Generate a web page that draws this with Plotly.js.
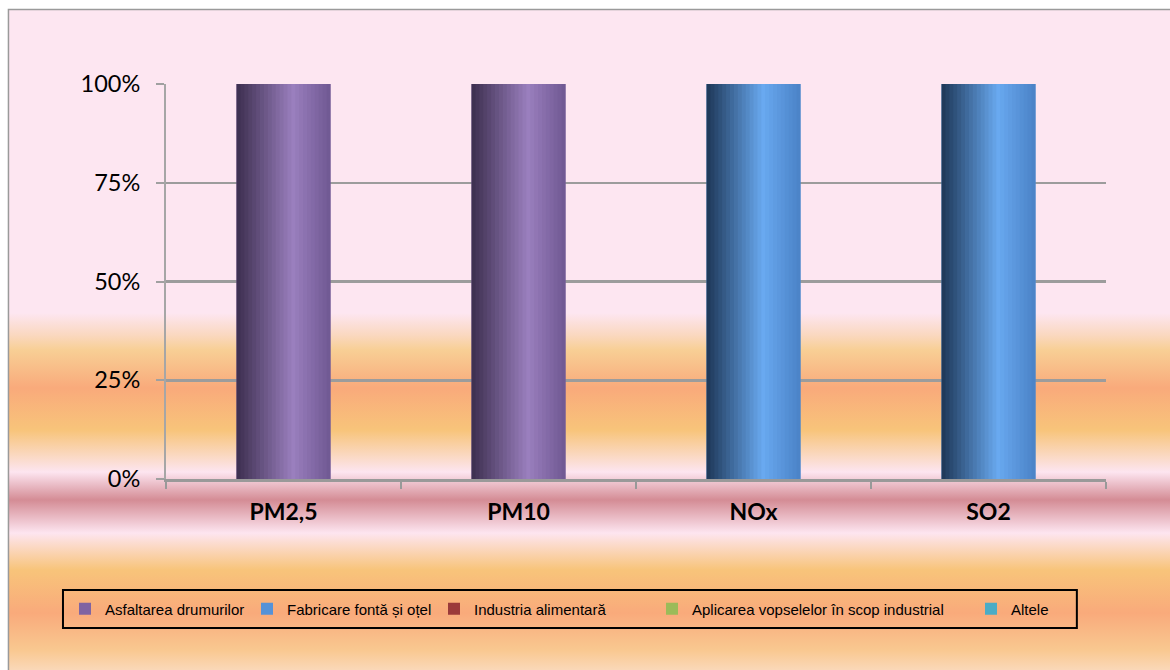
<!DOCTYPE html>
<html>
<head>
<meta charset="utf-8">
<script src="https://cdn.plot.ly/plotly-3.0.1.min.js"></script>
<style>
body { margin: 0; background: #fff; }
#chart {
  width: 1170px; height: 670px;
  background-color: #fff;
  background-image: linear-gradient(to bottom,
    #fde6f1 0px, #fde6f1 303px, #fad8c0 325px, #f8cf95 340px, #f9aa7b 378px,
    #f8c47a 420px, #fad8c0 445px, #fde5f0 462px, #d48c95 490px, #fde5f0 523px,
    #f8c47a 560px, #f9aa7b 603px, #f9c890 640px, #fad8b8 660px);
  background-position: 9px 10px;
  background-size: 1161px 660px;
  background-repeat: no-repeat;
}
</style>
</head>
<body>
<div id="chart"></div>
<script>
// DATA
var categories = ['PM2,5', 'PM10', 'NOx', 'SO2'];
var seriesNames = ['Asfaltarea drumurilor', 'Fabricare fontă și oțel', 'Industria alimentară',
                   'Aplicarea vopselelor în scop industrial', 'Altele'];
var asfaltare = [100, 100, 0, 0];
var fonta = [0, 0, 100, 100];
var alimentara = [0, 0, 0, 0];
var vopsele = [0, 0, 0, 0];
var altele = [0, 0, 0, 0];
var yTicks = [0, 25, 50, 75, 100];
var yTickText = ['0%', '25%', '50%', '75%', '100%'];

// colours: legend colour + cylinder shading (dark edge, highlight, right edge)
var legendColors = ['#8064a2', '#5592d8', '#9b3a3a', '#9bbb59', '#4bacc6'];
var shadeStops = [
  ['#3c2e4e', '#9a7fbe', '#6f5892'],
  ['#1d3656', '#69a9f0', '#4a82c6'],
  ['#4a1a1a', '#c0504d', '#8c3633'],
  ['#4d5e2c', '#b5d26e', '#86a24c'],
  ['#1f5663', '#63c6e0', '#3f95ab']
];
// left edge (px) of each legend entry, one legend per series
var legendLeft = [65, 247, 434, 652, 971];

function hex(c) { return [1, 3, 5].map(function (i) { return parseInt(c.substr(i, 2), 16); }); }
function mix(a, b, t) {
  var A = hex(a), B = hex(b);
  return 'rgb(' + A.map(function (v, i) { return Math.round(v + (B[i] - v) * t); }).join(',') + ')';
}
function shade(stops, t) {
  return t < 0.6 ? mix(stops[0], stops[1], t / 0.6) : mix(stops[1], stops[2], (t - 0.6) / 0.4);
}

var values = [asfaltare, fonta, alimentara, vopsele, altele];
var totals = categories.map(function (c, i) {
  return values.reduce(function (s, v) { return s + v[i]; }, 0);
});

var barWidth = 0.4;
var strips = 24;
var step = barWidth / strips;
var data = [];
var base = categories.map(function () { return 0; });

values.forEach(function (vals, s) {
  var share = vals.map(function (v, i) { return totals[i] ? v / totals[i] * 100 : 0; });
  var b = base.slice();
  data.push({
    type: 'bar', name: seriesNames[s], x: categories, y: share, base: b,
    legend: s ? 'legend' + (s + 1) : 'legend',
    width: barWidth, marker: {color: legendColors[s], line: {width: 0}}
  });
  for (var k = 0; k < strips; k++) {
    data.push({
      type: 'bar', x: categories, y: share, base: b, showlegend: false, hoverinfo: 'skip',
      offset: -barWidth / 2 + k * step, width: k < strips - 1 ? step * 1.6 : step,
      marker: {color: shade(shadeStops[s], (k + 0.5) / strips), line: {width: 0}}
    });
  }
  base = base.map(function (v, i) { return v + share[i]; });
});

var layout = {
  width: 1170, height: 670,
  margin: {l: 166, r: 64, t: 84, b: 191},
  paper_bgcolor: 'rgba(0,0,0,0)',
  plot_bgcolor: 'rgba(0,0,0,0)',
  barmode: 'overlay',
  showlegend: true,
  xaxis: {
    type: 'category', tickson: 'boundaries', ticks: 'outside', ticklen: 7,
    tickcolor: '#999', tickwidth: 2, showline: true, linecolor: '#999', linewidth: 3,
    showgrid: false, ticklabelstandoff: 10,
    tickfont: {family: 'Lato', size: 23, color: '#000', weight: 'bold'}
  },
  yaxis: {
    range: [0, 100], tickvals: yTicks, ticktext: yTickText,
    ticks: 'outside', ticklen: 8, tickcolor: '#a0a0a0', tickwidth: 2,
    showline: true, linecolor: '#a6a6a6', linewidth: 2,
    gridcolor: '#9c9c9c', gridwidth: 2.5, zeroline: false, ticklabelstandoff: 11,
    tickfont: {family: 'Lato', size: 23.5, color: '#000'}
  },
  shapes: [
    {type: 'rect', xref: 'paper', yref: 'paper', x0: -0.1096, x1: 0.969, y0: -0.377, y1: -0.281,
     line: {color: '#000', width: 2}},
    {type: 'rect', xref: 'paper', yref: 'paper', x0: -0.1676, x1: 1.2, y0: -0.7, y1: 1.1886,
     line: {color: '#9a9a9a', width: 1.5}}
  ]
};

legendLeft.forEach(function (px, s) {
  layout[s ? 'legend' + (s + 1) : 'legend'] = {
    orientation: 'h', x: (px - 166) / 940, xanchor: 'left', y: -0.329, yanchor: 'middle',
    bgcolor: 'rgba(0,0,0,0)', borderwidth: 0,
    font: {family: 'Liberation Sans', size: 15, color: '#000'}
  };
});

Plotly.newPlot('chart', data, layout, {staticPlot: true});
</script>
</body>
</html>
